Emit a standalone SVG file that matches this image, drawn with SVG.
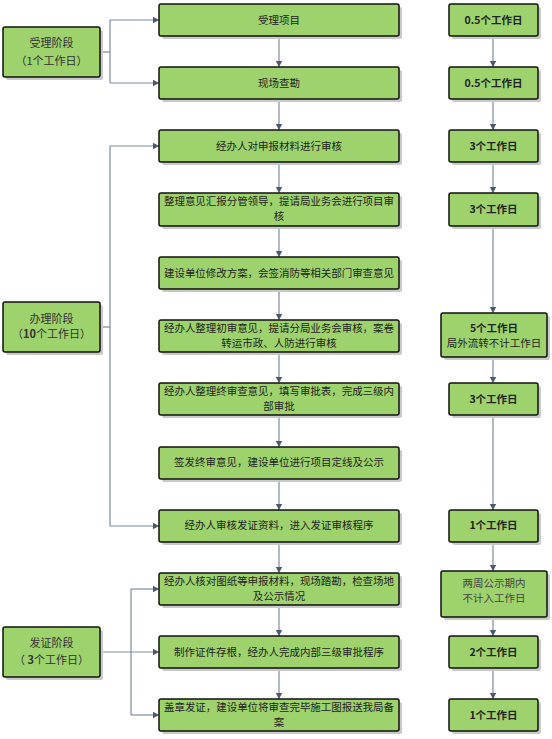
<svg xmlns="http://www.w3.org/2000/svg" width="552" height="739" viewBox="0 0 552 739">
<style>
.box{fill:#9dd26c;stroke:#111;stroke-width:1.5}
.sh{fill:#c9c9c9}
.t{font-family:"Noto Sans CJK SC","Liberation Sans",sans-serif;font-size:10.5px;fill:#222;text-anchor:middle}
.lt{font-family:"Noto Sans CJK SC","Liberation Sans",sans-serif;font-size:11px;fill:#333;text-anchor:middle}
.b{font-weight:bold}
.g{fill:#444}
.ln{fill:none;stroke:#7d8ba1;stroke-width:1.2}
</style>
<defs>
<marker id="ah" markerUnits="userSpaceOnUse" markerWidth="7" markerHeight="8" refX="6" refY="4" orient="auto">
<path d="M0,0.8 L6,4 L0,7.2 Z" fill="#4c5a70"/>
</marker>
</defs>

<g id="connectors">
<path class="ln" d="M100,52 H110"/>
<path class="ln" d="M110,20 V83"/>
<path class="ln" d="M110,20 H159" marker-end="url(#ah)"/>
<path class="ln" d="M110,83 H159" marker-end="url(#ah)"/>
<path class="ln" d="M100,327 H110"/>
<path class="ln" d="M110,146 V526"/>
<path class="ln" d="M110,146 H159" marker-end="url(#ah)"/>
<path class="ln" d="M110,526 H159" marker-end="url(#ah)"/>
<path class="ln" d="M131,589 V715"/>
<path class="ln" d="M131,589 H159" marker-end="url(#ah)"/>
<path class="ln" d="M100,652 H159" marker-end="url(#ah)"/>
<path class="ln" d="M131,715 H159" marker-end="url(#ah)"/>
<path class="ln" d="M279,36 V67" marker-end="url(#ah)"/>
<path class="ln" d="M279,99 V130" marker-end="url(#ah)"/>
<path class="ln" d="M279,162 V193" marker-end="url(#ah)"/>
<path class="ln" d="M279,226 V257" marker-end="url(#ah)"/>
<path class="ln" d="M279,289 V320" marker-end="url(#ah)"/>
<path class="ln" d="M279,352 V383" marker-end="url(#ah)"/>
<path class="ln" d="M279,415 V447" marker-end="url(#ah)"/>
<path class="ln" d="M279,478 V510" marker-end="url(#ah)"/>
<path class="ln" d="M279,541 V573" marker-end="url(#ah)"/>
<path class="ln" d="M279,604 V636" marker-end="url(#ah)"/>
<path class="ln" d="M279,667 V699" marker-end="url(#ah)"/>
<path class="ln" d="M493,36 V67" marker-end="url(#ah)"/>
<path class="ln" d="M493,99 V130" marker-end="url(#ah)"/>
<path class="ln" d="M493,162 V193" marker-end="url(#ah)"/>
<path class="ln" d="M493,226 V313" marker-end="url(#ah)"/>
<path class="ln" d="M493,357 V383" marker-end="url(#ah)"/>
<path class="ln" d="M493,415 V510" marker-end="url(#ah)"/>
<path class="ln" d="M493,541 V571" marker-end="url(#ah)"/>
<path class="ln" d="M493,617 V636" marker-end="url(#ah)"/>
<path class="ln" d="M493,667 V699" marker-end="url(#ah)"/>
</g>

<g id="stage1">
<rect class="sh" x="6" y="30" width="97" height="50" rx="2"/>
<rect class="box" x="3" y="27" width="97" height="50" rx="2"/>
<text class="lt" x="51.5" y="47">受理阶段</text>
<text class="lt" x="51.5" y="65">（1个工作日）</text>
</g>
<g id="stage2">
<rect class="sh" x="6" y="305" width="97" height="50" rx="2"/>
<rect class="box" x="3" y="302" width="97" height="50" rx="2"/>
<text class="lt" x="51.5" y="323">办理阶段</text>
<text class="lt" x="51.5" y="338">（<tspan font-weight="bold">10</tspan>个工作日）</text>
</g>
<g id="stage3">
<rect class="sh" x="6" y="630" width="97" height="50" rx="2"/>
<rect class="box" x="3" y="627" width="97" height="50" rx="2"/>
<text class="lt" x="51.5" y="647">发证阶段</text>
<text class="lt" x="51.5" y="664">（ <tspan font-weight="bold">3</tspan>个工作日）</text>
</g>

<g id="c1">
<rect class="sh" x="162" y="7" width="240" height="32" rx="2"/>
<rect class="box" x="159" y="4" width="240" height="32" rx="2"/>
<text class="t" x="279" y="24">受理项目</text>
</g>
<g id="c2">
<rect class="sh" x="162" y="70" width="240" height="32" rx="2"/>
<rect class="box" x="159" y="67" width="240" height="32" rx="2"/>
<text class="t" x="279" y="87">现场查勘</text>
</g>
<g id="c3">
<rect class="sh" x="162" y="133" width="240" height="32" rx="2"/>
<rect class="box" x="159" y="130" width="240" height="32" rx="2"/>
<text class="t" x="279" y="150">经办人对申报材料进行审核</text>
</g>
<g id="c4">
<rect class="sh" x="162" y="196" width="240" height="33" rx="2"/>
<rect class="box" x="159" y="193" width="240" height="33" rx="2"/>
<text class="t" x="279" y="205" textLength="230" lengthAdjust="spacing">整理意见汇报分管领导，提请局业务会进行项目审</text>
<text class="t" x="279" y="220">核</text>
</g>
<g id="c5">
<rect class="sh" x="162" y="260" width="240" height="32" rx="2"/>
<rect class="box" x="159" y="257" width="240" height="32" rx="2"/>
<text class="t" x="279" y="277" textLength="230" lengthAdjust="spacing">建设单位修改方案，会签消防等相关部门审查意见</text>
</g>
<g id="c6">
<rect class="sh" x="162" y="323" width="240" height="32" rx="2"/>
<rect class="box" x="159" y="320" width="240" height="32" rx="2"/>
<text class="t" x="279" y="332" textLength="230" lengthAdjust="spacing">经办人整理初审意见，提请分局业务会审核，案卷</text>
<text class="t" x="279" y="347">转运市政、人防进行审核</text>
</g>
<g id="c7">
<rect class="sh" x="162" y="386" width="240" height="32" rx="2"/>
<rect class="box" x="159" y="383" width="240" height="32" rx="2"/>
<text class="t" x="279" y="395" textLength="230" lengthAdjust="spacing">经办人整理终审查意见，填写审批表，完成三级内</text>
<text class="t" x="279" y="410">部审批</text>
</g>
<g id="c8">
<rect class="sh" x="162" y="450" width="240" height="32" rx="2"/>
<rect class="box" x="159" y="447" width="240" height="32" rx="2"/>
<text class="t" x="279" y="466">签发终审意见，建设单位进行项目定线及公示</text>
</g>
<g id="c9">
<rect class="sh" x="162" y="513" width="240" height="32" rx="2"/>
<rect class="box" x="159" y="510" width="240" height="32" rx="2"/>
<text class="t" x="279" y="529">经办人审核发证资料，进入发证审核程序</text>
</g>
<g id="c10">
<rect class="sh" x="162" y="576" width="240" height="32" rx="2"/>
<rect class="box" x="159" y="573" width="240" height="32" rx="2"/>
<text class="t" x="279" y="585" textLength="230" lengthAdjust="spacing">经办人核对图纸等申报材料，现场踏勘，检查场地</text>
<text class="t" x="279" y="600">及公示情况</text>
</g>
<g id="c11">
<rect class="sh" x="162" y="639" width="240" height="32" rx="2"/>
<rect class="box" x="159" y="636" width="240" height="32" rx="2"/>
<text class="t" x="279" y="656">制作证件存根，经办人完成内部三级审批程序</text>
</g>
<g id="c12">
<rect class="sh" x="162" y="702" width="240" height="32" rx="2"/>
<rect class="box" x="159" y="699" width="240" height="32" rx="2"/>
<text class="t" x="279" y="711" textLength="230" lengthAdjust="spacing">盖章发证，建设单位将审查完毕施工图报送我局备</text>
<text class="t" x="279" y="726">案</text>
</g>

<g id="r1">
<rect class="sh" x="452" y="7" width="89" height="32" rx="2"/>
<rect class="box" x="449" y="4" width="89" height="32" rx="2"/>
<text class="t b" x="493.5" y="24">0.5个工作日</text>
</g>
<g id="r2">
<rect class="sh" x="452" y="70" width="89" height="32" rx="2"/>
<rect class="box" x="449" y="67" width="89" height="32" rx="2"/>
<text class="t b" x="493.5" y="87">0.5个工作日</text>
</g>
<g id="r3">
<rect class="sh" x="452" y="133" width="89" height="32" rx="2"/>
<rect class="box" x="449" y="130" width="89" height="32" rx="2"/>
<text class="t b" x="493.5" y="150">3个工作日</text>
</g>
<g id="r4">
<rect class="sh" x="452" y="196" width="89" height="33" rx="2"/>
<rect class="box" x="449" y="193" width="89" height="33" rx="2"/>
<text class="t b" x="493.5" y="213">3个工作日</text>
</g>
<g id="r5">
<rect class="sh" x="444" y="316" width="106" height="44" rx="2"/>
<rect class="box" x="441" y="313" width="106" height="44" rx="2"/>
<text class="t b" x="494" y="331.5">5个工作日</text>
<text class="t" x="494" y="346.5">局外流转不计工作日</text>
</g>
<g id="r6">
<rect class="sh" x="452" y="386" width="89" height="32" rx="2"/>
<rect class="box" x="449" y="383" width="89" height="32" rx="2"/>
<text class="t b" x="493.5" y="403">3个工作日</text>
</g>
<g id="r7">
<rect class="sh" x="452" y="513" width="89" height="32" rx="2"/>
<rect class="box" x="449" y="510" width="89" height="32" rx="2"/>
<text class="t b" x="493.5" y="529">1个工作日</text>
</g>
<g id="r8">
<rect class="sh" x="444" y="574" width="106" height="46" rx="2"/>
<rect class="box" x="441" y="571" width="106" height="46" rx="2"/>
<text class="t g" x="494" y="587">两周公示期内</text>
<text class="t g" x="494" y="602">不计入工作日</text>
</g>
<g id="r9">
<rect class="sh" x="452" y="639" width="89" height="32" rx="2"/>
<rect class="box" x="449" y="636" width="89" height="32" rx="2"/>
<text class="t b" x="493.5" y="656">2个工作日</text>
</g>
<g id="r10">
<rect class="sh" x="452" y="702" width="89" height="32" rx="2"/>
<rect class="box" x="449" y="699" width="89" height="32" rx="2"/>
<text class="t b" x="493.5" y="719">1个工作日</text>
</g>
</svg>
